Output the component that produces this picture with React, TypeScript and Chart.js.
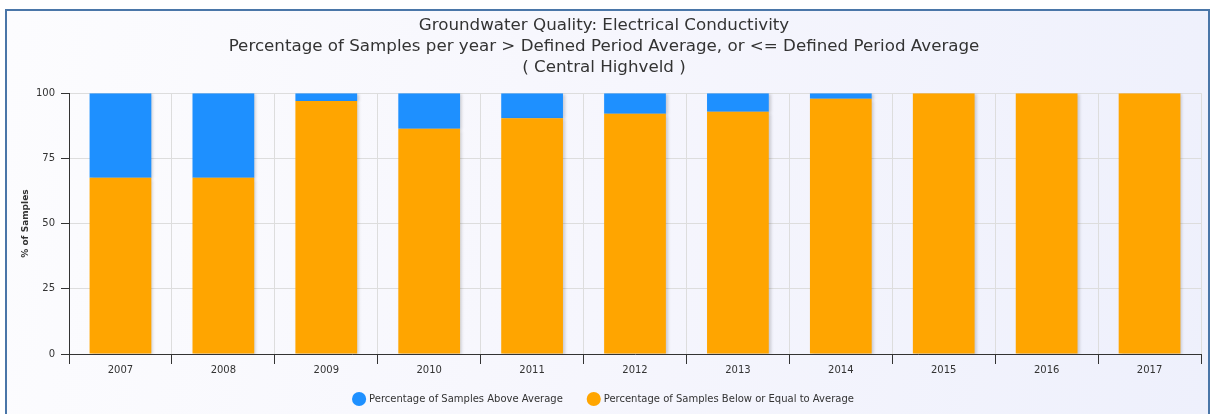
import React, { useEffect, useRef } from "react";
import { Chart, registerables } from "chart.js";

Chart.register(...registerables);

const years = ["2007", "2008", "2009", "2010", "2011", "2012", "2013", "2014", "2015", "2016", "2017"];
const aboveAverage = [32.4, 32.4, 3.0, 13.7, 9.6, 7.9, 7.1, 2.2, 0, 0, 0];
const belowOrEqual = [67.6, 67.6, 97.0, 86.3, 90.4, 92.1, 92.9, 97.8, 100, 100, 100];
const yTicks = [0, 25, 50, 75, 100];
const titleLines = [
  "Groundwater Quality: Electrical Conductivity",
  "Percentage of Samples per year > Defined Period Average, or <= Defined Period Average",
  "( Central Highveld )",
];

const shadowPlugin = {
  id: "barShadow",
  beforeDatasetsDraw(chart: any) {
    const ctx = chart.ctx;
    ctx.save();
    ctx.shadowColor = "rgba(0,0,0,0.18)";
    ctx.shadowBlur = 3;
    ctx.shadowOffsetX = 2;
    ctx.shadowOffsetY = 1;
  },
  afterDatasetsDraw(chart: any) {
    chart.ctx.restore();
  },
};

export default function App() {
  const ref = useRef<HTMLCanvasElement>(null);
  useEffect(() => {
    if (!ref.current) return;
    const font = "'DejaVu Sans', sans-serif";
    const chart = new Chart(ref.current, {
      type: "bar",
      data: {
        labels: years,
        datasets: [
          {
            label: "Percentage of Samples Below or Equal to Average",
            data: belowOrEqual,
            backgroundColor: "#ffa500",
            borderWidth: 0,
            barPercentage: 0.6,
            categoryPercentage: 1,
          },
          {
            label: "Percentage of Samples Above Average",
            data: aboveAverage,
            backgroundColor: "#1e90ff",
            borderWidth: 0,
            barPercentage: 0.6,
            categoryPercentage: 1,
          },
        ],
      },
      plugins: [shadowPlugin],
      options: {
        animation: false,
        responsive: false,
        maintainAspectRatio: false,
        layout: { padding: { left: 0, right: 7, top: 0, bottom: 0 } },
        plugins: {
          title: {
            display: true,
            text: titleLines,
            color: "#333333",
            font: { family: font, size: 16.7, weight: "normal", lineHeight: 1.26 },
            padding: { top: 4.5, bottom: 14.5 },
          },
          legend: {
            position: "bottom",
            reverse: true,
            labels: {
              usePointStyle: true,
              pointStyle: "circle",
              boxWidth: 10,
              boxHeight: 10,
              color: "#333333",
              font: { family: font, size: 10 },
              padding: 10,
              generateLabels(chart: any) {
                const items = Chart.defaults.plugins.legend.labels.generateLabels(chart);
                return items.map((it: any) => ({
                  ...it,
                  text: it.datasetIndex === 1 ? it.text + "     " : it.text,
                }));
              },
            },
          },
          tooltip: { enabled: false },
        },
        scales: {
          x: {
            stacked: true,
            grid: {
              color: "#dddddd",
              tickColor: "#333333",
              tickLength: 10,
              offset: true,
            },
            border: { color: "#333333", width: 1 },
            ticks: { color: "#333333", font: { family: font, size: 10 }, padding: 0 },
            afterFit(scale: any) {
              scale.height = 30;
            },
          },
          y: {
            stacked: true,
            min: 0,
            max: 100,
            afterBuildTicks(scale: any) {
              scale.ticks = yTicks.map((v) => ({ value: v }));
            },
            grid: { color: "#dddddd", tickColor: "#333333", tickLength: 8 },
            border: { color: "#333333", width: 1 },
            ticks: { color: "#333333", font: { family: font, size: 10 }, padding: 6 },
            title: {
              display: true,
              text: "% of Samples",
              color: "#333333",
              font: { family: font, size: 9, weight: "bold" },
              padding: { top: 13, bottom: 0 },
            },
            afterFit(scale: any) {
              scale.width = 62;
            },
          },
        },
      },
    });
    return () => chart.destroy();
  }, []);

  return (
    <div
      style={{
        position: "fixed",
        left: 5,
        top: 9,
        width: 1201,
        height: 420,
        border: "2px solid #4a76a8",
        background: "linear-gradient(100deg, #fcfcfe 0%, #f6f6fd 50%, #eef0fc 100%)",
      }}
    >
      <canvas ref={ref} width={1201} height={403} style={{ display: "block", width: 1201, height: 403 }} />
    </div>
  );
}
